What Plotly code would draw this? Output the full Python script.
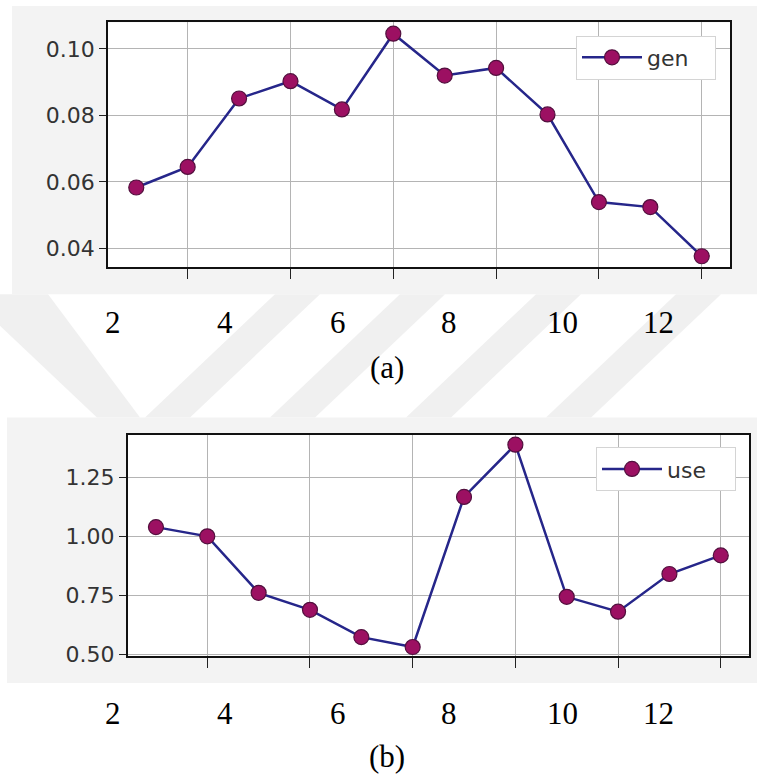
import plotly.graph_objects as go

# ---- data ----
x_vals = [1, 2, 3, 4, 5, 6, 7, 8, 9, 10, 11, 12]
gen = [0.0583, 0.0645, 0.0851, 0.0903, 0.0818, 0.1046, 0.0920, 0.0943, 0.0803, 0.0539, 0.0524, 0.0376]
use = [1.039, 1.000, 0.760, 0.688, 0.572, 0.530, 1.167, 1.389, 0.743, 0.680, 0.840, 0.919]
x_ticks = [2, 4, 6, 8, 10, 12]
doc_labels = ["2", "4", "6", "8", "10", "12"]
gen_yticks = [0.04, 0.06, 0.08, 0.10]
use_yticks = [0.50, 0.75, 1.00, 1.25]
captions = ["(a)", "(b)"]

W, H = 757, 776
def px(v): return v / W
def py(v): return 1 - v / H

LINE = "#26268a"
MFILL = "#9c1062"
MEDGE = "#52103e"
TICKFONT = dict(family="DejaVu Sans", size=22, color="#333333")

fig = go.Figure()
fig.add_trace(go.Scatter(x=x_vals, y=gen, name="gen", mode="lines+markers",
                         line=dict(color=LINE, width=2.5),
                         marker=dict(size=15, color=MFILL, line=dict(color=MEDGE, width=1.2)),
                         xaxis="x", yaxis="y", legend="legend"))
fig.add_trace(go.Scatter(x=x_vals, y=use, name="use", mode="lines+markers",
                         line=dict(color=LINE, width=2.5),
                         marker=dict(size=15, color=MFILL, line=dict(color=MEDGE, width=1.2)),
                         xaxis="x2", yaxis="y2", legend="legend2"))

axis_common = dict(showline=True, linecolor="#111111", linewidth=1.8, mirror=True,
                   showgrid=True, gridcolor="#b4b4b4", gridwidth=1, zeroline=False,
                   ticks="outside", tickcolor="#222222", tickwidth=1.3)

legend_common = dict(xanchor="right", yanchor="top", orientation="h",
                     entrywidth=63, itemwidth=60, bgcolor="white", bordercolor="#d4d4d4", borderwidth=1,
                     font=dict(family="DejaVu Sans", size=22, color="#333333"))

fig.update_layout(
    width=W, height=H, margin=dict(l=0, r=0, t=0, b=0),
    paper_bgcolor="white", plot_bgcolor="white", showlegend=True,
    xaxis=dict(domain=[px(108), px(730)], anchor="y", range=[0.45, 12.55],
               tickvals=x_ticks, showticklabels=False, ticklen=10, **axis_common),
    yaxis=dict(domain=[py(270.7), py(22.7)], anchor="x", range=[0.0343, 0.1080],
               tickvals=gen_yticks, tickformat=".2f", ticklen=7, tickfont=TICKFONT, **axis_common),
    xaxis2=dict(domain=[px(127.7), px(749)], anchor="y2", range=[0.45, 12.55],
                tickvals=x_ticks, showticklabels=False, ticklen=10, **axis_common),
    yaxis2=dict(domain=[py(665), py(440.7)], anchor="x2", range=[0.490, 1.430],
                tickvals=use_yticks, tickformat=".2f", ticklen=7, tickfont=TICKFONT, **axis_common),
    legend=dict(x=px(716), y=py(36), **legend_common),
    legend2=dict(x=px(736), y=py(453), **legend_common),
)

shapes = []
# watermark stripes (faint)
STRIPE = "#f0f0f0"
for x0 in [275, 400, 536, 676]:
    w = 45
    shapes.append(dict(type="path", xref="paper", yref="paper", layer="below",
                       path=f"M {px(x0)},{py(298)} L {px(x0+w)},{py(298)} L {px(x0+w-130)},{py(423)} L {px(x0-130)},{py(423)} Z",
                       fillcolor=STRIPE, line=dict(width=0)))
shapes.append(dict(type="path", xref="paper", yref="paper", layer="below",
                   path=f"M {px(0)},{py(298)} L {px(48)},{py(298)} L {px(140)},{py(423)} L {px(97)},{py(423)} L {px(0)},{py(330)} Z",
                   fillcolor=STRIPE, line=dict(width=0)))
# gray panels
shapes.append(dict(type="rect", xref="paper", yref="paper", layer="below",
                   x0=px(12), x1=1.0, y0=py(298), y1=py(6), fillcolor="#f3f3f3", line=dict(width=0)))
shapes.append(dict(type="rect", xref="paper", yref="paper", layer="below",
                   x0=px(7), x1=1.0, y0=py(692), y1=py(423), fillcolor="#f3f3f3", line=dict(width=0)))
# white plot areas
for xr, yr in [("x", "y"), ("x2", "y2")]:
    shapes.append(dict(type="rect", xref=f"{xr} domain", yref=f"{yr} domain", layer="below",
                       x0=0, x1=1, y0=0, y1=1, fillcolor="white", line=dict(width=0)))
fig.update_layout(shapes=shapes)

annotations = []
label_px = [113, 225, 338, 449, 562, 658]
for row_y, cap_y, cap in [(327, 372, captions[0]), (723, 766, captions[1])]:
    for lbl, lx in zip(doc_labels, label_px):
        annotations.append(dict(text=lbl, x=px(lx), y=py(row_y), xref="paper", yref="paper",
                                showarrow=False, xanchor="center", yanchor="middle",
                                font=dict(family="Liberation Serif", size=31, color="black")))
    annotations.append(dict(text=cap, x=px(387), y=py(cap_y), xref="paper", yref="paper",
                            showarrow=False, xanchor="center", yanchor="middle",
                            font=dict(family="Liberation Serif", size=31, color="black")))
fig.update_layout(annotations=annotations)

fig.write_html("out.html")
